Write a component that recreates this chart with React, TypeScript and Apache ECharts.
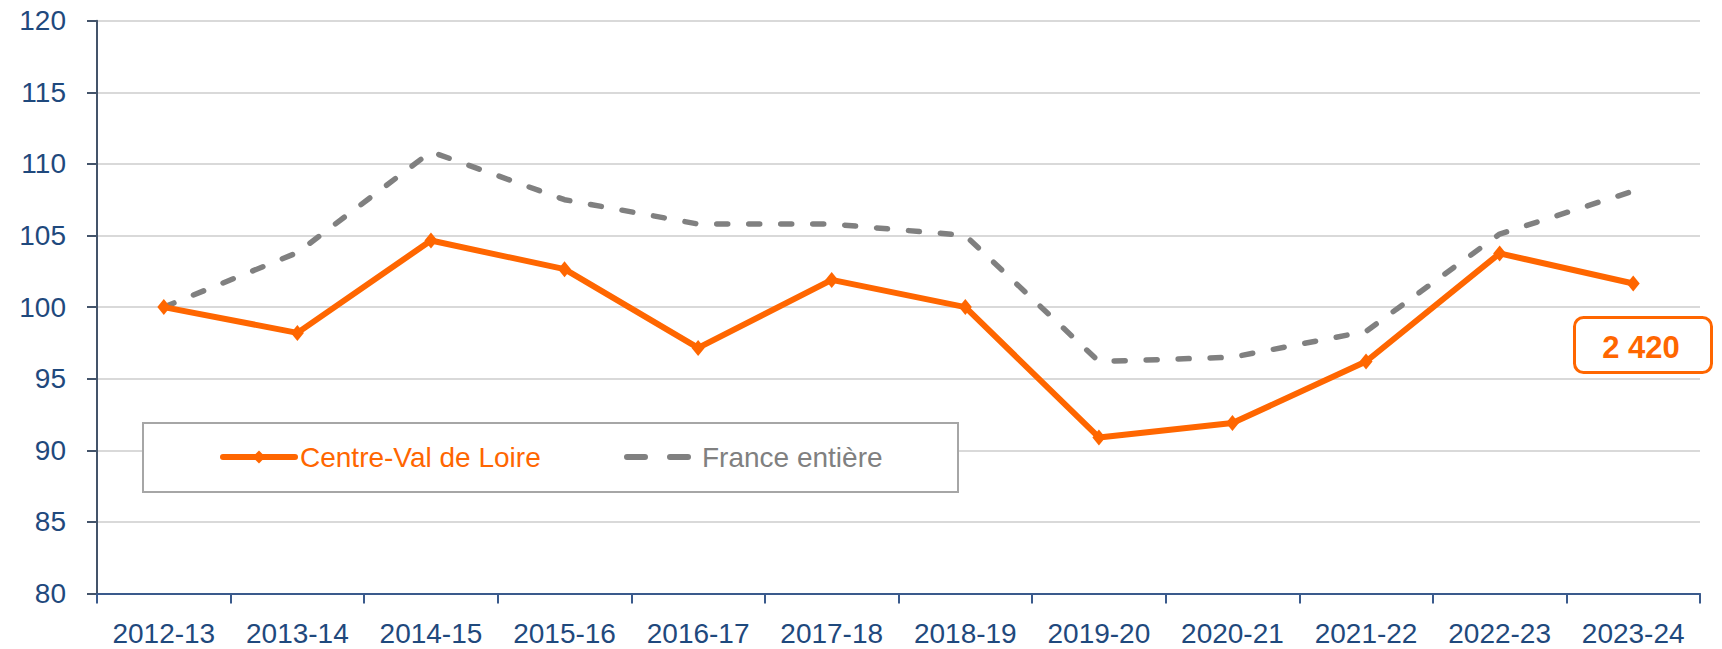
import React, { useEffect, useRef } from "react";
import * as echarts from "echarts";

const categories = [
  "2012-13", "2013-14", "2014-15", "2015-16", "2016-17", "2017-18",
  "2018-19", "2019-20", "2020-21", "2021-22", "2022-23", "2023-24",
];
const centreValDeLoire = [100, 98.2, 104.65, 102.65, 97.15, 101.9, 100.0, 90.9, 91.9, 96.2, 103.75, 101.65];
const franceEntiere = [100, 103.8, 110.85, 107.5, 105.8, 105.8, 105.0, 96.2, 96.5, 98.3, 105.1, 108.1];
const yTicks = { min: 80, max: 120, interval: 5 };
const annotationText = "2 420";

const ORANGE = "#FF6600";
const GREY = "#808080";
const BLUE = "#1F497D";
const FONT = "'Liberation Sans', Arial, sans-serif";

export default function App() {
  const ref = useRef<HTMLDivElement>(null);
  useEffect(() => {
    if (!ref.current) return;
    const chart = echarts.init(ref.current, null, { renderer: "svg" });
    chart.setOption({
      animation: false,
      backgroundColor: "#FFFFFF",
      grid: { left: 97, right: 22, top: 20.7, bottom: 55.5, containLabel: false },
      xAxis: {
        type: "category",
        data: categories,
        boundaryGap: true,
        axisLine: { show: true, lineStyle: { color: "#3A5A8C", width: 2 } },
        axisTick: { show: true, length: 10, inside: false, alignWithLabel: false, lineStyle: { color: "#3A5A8C", width: 2 } },
        axisLabel: { margin: 26, fontSize: 28, color: BLUE, fontFamily: FONT, interval: 0 },
        splitLine: { show: false },
      },
      yAxis: {
        type: "value",
        min: yTicks.min,
        max: yTicks.max,
        interval: yTicks.interval,
        axisLine: { show: true, lineStyle: { color: "#44546A", width: 2 } },
        axisTick: { show: true, length: 10, inside: false, lineStyle: { color: "#44546A", width: 2 } },
        axisLabel: { margin: 31, fontSize: 28, color: BLUE, fontFamily: FONT },
        splitLine: { show: true, lineStyle: { color: "#D9D9D9", width: 2 } },
      },
      legend: [
        {
          data: ["Centre-Val de Loire"],
          left: 220,
          top: 441,
          padding: 0,
          itemWidth: 72,
          itemHeight: 16,
          z: 10,
          lineStyle: { width: 6, color: ORANGE, cap: "round" },
          textStyle: { fontSize: 28, color: ORANGE, fontFamily: FONT, lineHeight: 32 },
        },
        {
          data: [
            {
              name: "France entière",
              icon: "path://M3,0 H21 A3,3 0 0 1 21,6 H3 A3,3 0 0 1 3,0 Z M46,0 H64 A3,3 0 0 1 64,6 H46 A3,3 0 0 1 46,0 Z",
            },
          ],
          left: 624,
          top: 441,
          padding: 0,
          itemWidth: 67,
          itemHeight: 6,
          itemStyle: { color: GREY },
          z: 10,
          textStyle: { fontSize: 28, color: GREY, fontFamily: FONT, lineHeight: 32, padding: [0, 0, 0, 6] },
        },
      ],
      graphic: [
        {
          type: "rect",
          left: 142,
          top: 422,
          z: 2,
          shape: { width: 815, height: 69 },
          style: { fill: "#FFFFFF", stroke: "#A6A6A6", lineWidth: 2 },
        },
        {
          type: "rect",
          left: 1573,
          top: 316,
          z: 2,
          shape: { width: 137, height: 55, r: 9 },
          style: { fill: "#FFFFFF", stroke: ORANGE, lineWidth: 3 },
        },
        {
          type: "text",
          x: 1641,
          y: 347,
          z: 3,
          style: {
            text: annotationText,
            fill: ORANGE,
            font: `bold 31px ${FONT}`,
            align: "center",
            verticalAlign: "middle",
          },
        },
      ],
      series: [
        {
          name: "France entière",
          type: "line",
          data: franceEntiere,
          symbol: "none",
          z: 3,
          lineStyle: { color: GREY, width: 5.5, type: [11, 21], cap: "round", join: "round" },
          itemStyle: { color: GREY },
        },
        {
          name: "Centre-Val de Loire",
          type: "line",
          data: centreValDeLoire,
          symbol: "diamond",
          symbolSize: [13, 16],
          z: 4,
          lineStyle: { color: ORANGE, width: 6 },
          itemStyle: { color: ORANGE },
        },
      ],
    });
    return () => chart.dispose();
  }, []);
  return (
    <div
      ref={ref}
      style={{ position: "absolute", left: 0, top: 0, width: 1722, height: 649 }}
    />
  );
}
